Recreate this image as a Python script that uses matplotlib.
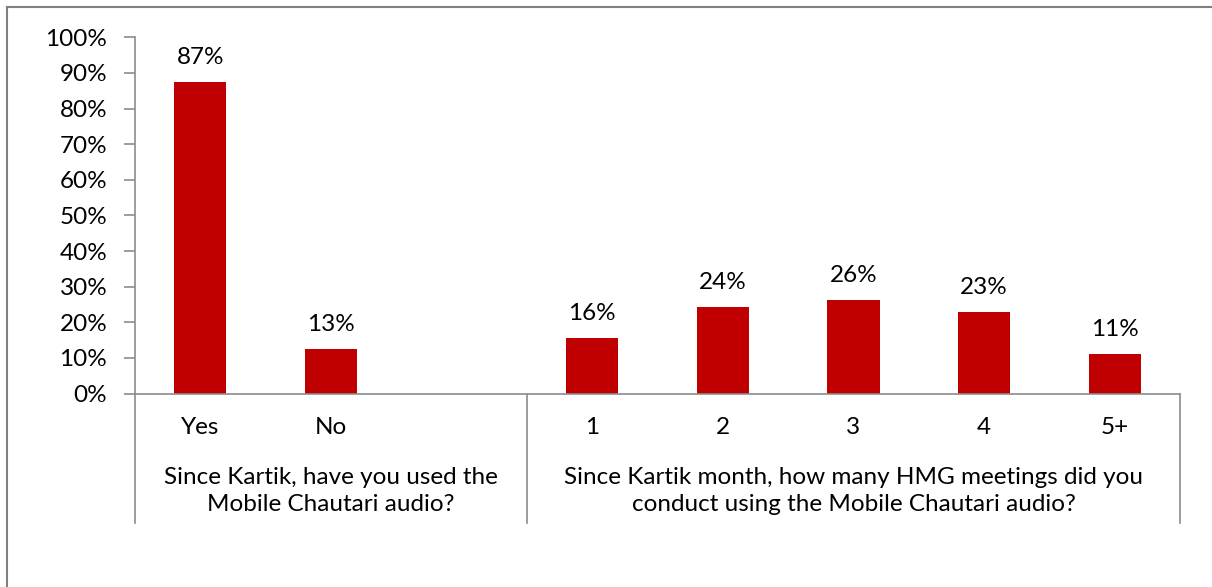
import numpy as np
import matplotlib
matplotlib.use("Agg")
import matplotlib.pyplot as plt
from matplotlib.lines import Line2D

plt.rcParams['font.family'] = ['Lato', 'DejaVu Sans']

# data
categories = ["Yes", "No", "", "1", "2", "3", "4", "5+"]
values = [87.4, 12.6, np.nan, 15.5, 24.2, 26.3, 22.8, 11.0]
labels = ["87%", "13%", "", "16%", "24%", "26%", "23%", "11%"]
group_names = ["Since Kartik, have you used the\nMobile Chautari audio?",
               "Since Kartik month, how many HMG meetings did you\nconduct using the Mobile Chautari audio?"]
group_sizes = [3, 5]
yticks = np.arange(0, 101, 10)

W, H = 1212, 587
fig = plt.figure(figsize=(W / 100, H / 100), dpi=100)
ax = fig.add_axes([135 / W, 1 - 393.5 / H, (1180 - 135) / W, (393.5 - 37.3) / H])

grey = "#8c8c8c"
red = "#C00000"
fs = 17.5

x = np.arange(len(categories))
ax.bar(x, values, width=0.4, color=red, edgecolor="none")
ax.set_xlim(-0.5, len(categories) - 0.5)
ax.set_ylim(0, 100)
ax.set_yticks(yticks)
ax.set_yticklabels([f"{v}%" for v in yticks], fontsize=fs)
ax.tick_params(axis="y", length=8, width=1.2, color=grey, pad=12)
ax.tick_params(axis="x", length=0, labelbottom=False)
for s in ["top", "right"]:
    ax.spines[s].set_visible(False)
for s in ["left", "bottom"]:
    ax.spines[s].set_color(grey)
    ax.spines[s].set_linewidth(1.2)

# value labels
for xi, v, lab in zip(x, values, labels):
    if lab:
        ax.annotate(lab, (xi, v), xytext=(0, 10), textcoords="offset points",
                    ha="center", va="bottom", fontsize=fs)

# category labels (in pixel-based axes fraction)
def yfrac(py):
    return (393.5 - py) / (393.5 - 37.3)

trans = ax.get_xaxis_transform()
for xi, c in zip(x, categories):
    if c:
        ax.text(xi, yfrac(427), c, transform=trans, ha="center", va="center", fontsize=fs)

# group labels and separators
start = -0.5
bounds = [start]
for name, n in zip(group_names, group_sizes):
    mid = start + n / 2
    ax.text(mid, yfrac(491), name, transform=trans, ha="center", va="center",
            fontsize=fs, linespacing=1.3)
    start += n
    bounds.append(start)
for b in bounds:
    ax.add_line(Line2D([b, b], [0, yfrac(523)], transform=trans, color=grey,
                       lw=1.2, clip_on=False))
# extend baseline left to the tick
ax.add_line(Line2D([127 / W, 135 / W], [1 - 393.5 / H] * 2, transform=fig.transFigure,
                   color=grey, lw=1.2))

# outer frame (top and left edges visible)
fig.add_artist(Line2D([7 / W, 1.0], [1 - 7 / H] * 2, transform=fig.transFigure,
                      color="#808080", lw=1.5))
fig.add_artist(Line2D([7 / W, 7 / W], [0, 1 - 7 / H], transform=fig.transFigure,
                      color="#808080", lw=1.5))

fig.savefig("out.png", dpi=100)
